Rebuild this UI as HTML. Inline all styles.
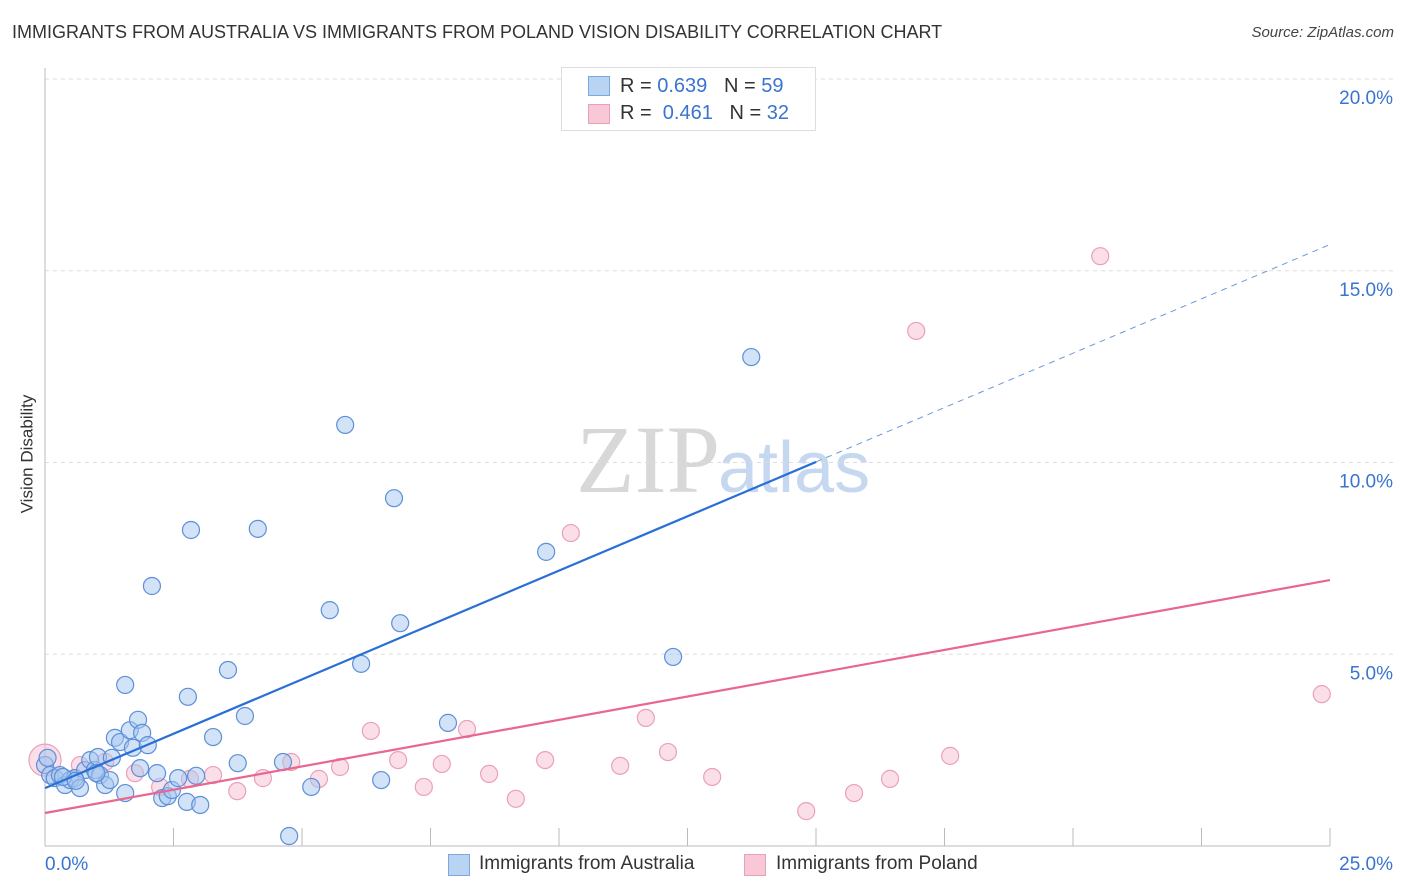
<!DOCTYPE html>
<html><head><meta charset="utf-8"><style>
body{margin:0;background:#fff;font-family:"Liberation Sans",sans-serif;}
#wrap{position:relative;width:1406px;height:892px;overflow:hidden;}
.t{position:absolute;white-space:nowrap;}
</style></head><body>
<div id="wrap">
<div class="t" style="left:12px;top:22px;font-size:18px;color:#333;">IMMIGRANTS FROM AUSTRALIA VS IMMIGRANTS FROM POLAND VISION DISABILITY CORRELATION CHART</div>
<div class="t" style="right:12px;top:24px;font-size:15px;color:#444;font-style:italic;">Source: ZipAtlas.com</div>
<div class="t" style="left:-32px;top:444px;font-size:17px;color:#333;transform:rotate(-90deg);">Vision Disability</div>
<svg id="svg" width="1406" height="892" style="position:absolute;left:0;top:0;">
<text x="720" y="492" font-family="Liberation Serif,serif" font-size="96" fill="#d8d8d8" text-anchor="end">ZIP</text>
<text x="718" y="492" font-family="Liberation Sans,sans-serif" font-size="72" fill="#c5d8ef">atlas</text>
</svg>
<div style="position:absolute;left:561px;top:67px;width:253px;height:62px;border:1px solid #ddd;background:#fff;font-size:20px;">
 <div style="position:absolute;left:26px;top:8px;width:20px;height:18px;background:#b9d3f3;border:1px solid #7ea7dd;"></div>
 <div class="t" style="left:58px;top:7px;color:#333;">R = <span style="color:#3a74d0">0.639</span>&nbsp;&nbsp;&nbsp;N = <span style="color:#3a74d0">59</span></div>
 <div style="position:absolute;left:26px;top:36px;width:20px;height:18px;background:#f8c8d6;border:1px solid #eaa0b8;"></div>
 <div class="t" style="left:58px;top:34px;color:#333;">R = &nbsp;<span style="color:#3a74d0">0.461</span>&nbsp;&nbsp;&nbsp;N = <span style="color:#3a74d0">32</span></div>
</div>
<div style="position:absolute;left:448px;top:853px;font-size:19px;color:#333;">
 <div style="position:absolute;left:0;top:1px;width:20px;height:20px;background:#b9d3f3;border:1px solid #7ea7dd;"></div>
 <div class="t" style="left:31px;top:0;">Immigrants from Australia</div>
 <div style="position:absolute;left:296px;top:1px;width:20px;height:20px;background:#f8c8d6;border:1px solid #eaa0b8;"></div>
 <div class="t" style="left:328px;top:0;">Immigrants from Poland</div>
</div>
</div>
<script>
const xTicks=[0,25];
const yTicks=[5,10,15,20];
const ausX=[0,0.1,0.19,0.29,0.39,0.49,0.58,0.68,0.78,0.88,0.97,1.07,1.03,1.17,1.26,1.36,1.46,1.56,1.56,1.65,1.71,1.81,1.89,2.0,1.85,2.08,2.18,2.28,2.39,2.47,2.59,2.78,2.76,2.84,2.94,3.02,3.27,3.56,3.75,3.89,4.14,4.63,4.75,5.18,5.54,5.84,6.15,6.54,6.79,6.91,7.84,9.75,12.22,13.74,0.05,0.35,0.6,1.0,1.3];
const ausY=[2.11,1.85,1.77,1.85,1.59,1.72,1.77,1.51,1.98,2.24,1.98,1.85,2.32,1.59,1.72,2.82,2.71,1.38,4.2,3.02,2.56,3.29,2.95,2.63,2.03,6.78,1.90,1.25,1.30,1.46,1.77,3.89,1.15,8.24,1.83,1.07,2.84,4.59,2.16,3.39,8.27,2.19,0.26,1.54,6.15,10.98,4.75,1.72,9.07,5.81,3.21,7.67,4.93,12.75,2.3,1.8,1.7,1.9,2.3];
const polX=[0,0.68,1.17,1.75,2.24,2.82,3.27,3.74,4.24,4.79,5.33,5.74,6.34,6.87,7.37,7.72,8.21,8.64,9.16,9.73,10.23,11.19,11.69,12.12,12.98,14.81,15.74,16.44,16.95,17.61,20.53,24.84];
const polY=[2.24,2.11,2.19,1.90,1.54,1.75,1.85,1.43,1.77,2.19,1.75,2.06,3.0,2.24,1.54,2.14,3.05,1.88,1.23,2.24,8.16,2.09,3.34,2.45,1.80,0.91,1.38,1.75,13.43,2.35,15.38,3.96];
const ausLine=[1.51,0.567]; // intercept, slope
const polLine=[0.86,0.243];
const X0=45,X1=1330,Y0=846,Y20=79;
const sx=v=>X0+(v-0)/(25-0)*(X1-X0);
const sy=v=>Y0-(v/20)*(Y0-Y20);
const svg=document.getElementById('svg');
const NS='http://www.w3.org/2000/svg';
function mk(tag,attrs){const e=document.createElementNS(NS,tag);for(const k in attrs)e.setAttribute(k,attrs[k]);svg.appendChild(e);return e;}
yTicks.forEach(t=>{
 const g=mk('line',{x1:X0,x2:1395,y1:sy(t),y2:sy(t),stroke:'#ddd','stroke-dasharray':'4,4'});
 
 
 const l=mk('text',{x:1393,y:sy(t)+25,'text-anchor':'end','font-size':19,fill:'#3a74d0','font-family':'Liberation Sans,sans-serif'});
 l.textContent=t.toFixed(1)+'%';
 
 
});
for(let i=1;i<=10;i++){
 const v=i*2.5;const t=mk('line',{x1:sx(v),x2:sx(v),y1:Y0-18,y2:Y0,stroke:'#bbb'});
 
 
}
const ax=mk('line',{x1:X0,x2:X0,y1:68,y2:Y0,stroke:'#bbb'});


const bx=mk('line',{x1:X0,x2:X1,y1:Y0,y2:Y0,stroke:'#bbb'});


xTicks.forEach((t,i)=>{
 const l=mk('text',{x:i?1393:45,y:870,'text-anchor':i?'end':'start','font-size':19,fill:'#3a74d0','font-family':'Liberation Sans,sans-serif'});
 l.textContent=t.toFixed(1)+'%';
 
 
});
polX.forEach((x,i)=>{
 const c=mk('circle',{cx:sx(x),cy:sy(polY[i]),r:i===0?16:8.5,fill:'rgba(247,185,205,0.45)',stroke:'#eba0b8','stroke-width':1.2});
 
 
});
ausX.forEach((x,i)=>{
 const c=mk('circle',{cx:sx(x),cy:sy(ausY[i]),r:8.5,fill:'rgba(165,198,240,0.5)',stroke:'#5d90d8','stroke-width':1.2});
 
 
});
const f=(L,x)=>L[0]+L[1]*x;
const bl=mk('line',{x1:sx(0),y1:sy(f(ausLine,0)),x2:sx(15),y2:sy(f(ausLine,15)),stroke:'#2a6fd6','stroke-width':2.2});


const bd=mk('line',{x1:sx(15),y1:sy(f(ausLine,15)),x2:sx(25),y2:sy(f(ausLine,25)),stroke:'#6a9ad8','stroke-width':1,'stroke-dasharray':'6,5'});


const pl=mk('line',{x1:sx(0),y1:sy(f(polLine,0)),x2:sx(25),y2:sy(f(polLine,25)),stroke:'#e86690','stroke-width':2.2});


</script>
</body></html>
